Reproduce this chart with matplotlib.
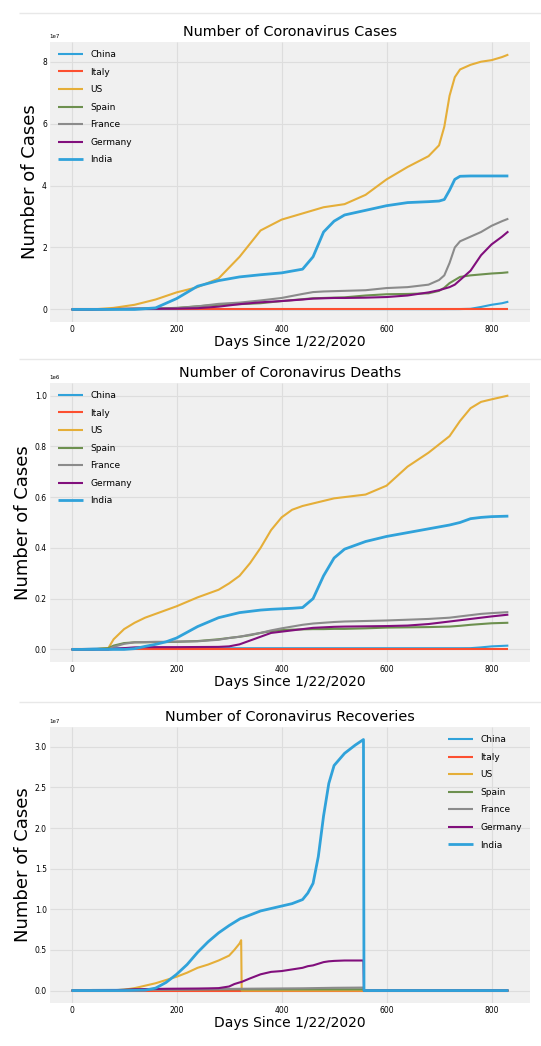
import matplotlib
matplotlib.use("Agg")
import matplotlib.pyplot as plt
from matplotlib.lines import Line2D

countries = ['China', 'Italy', 'US', 'Spain', 'France', 'Germany', 'India']
colors = ['#30a2da', '#fc4f30', '#e5ae38', '#6d904f', '#8b8b8b', '#810f7c', '#30a2da']

# --- confirmed cases (x 1e7) ---
days_c = [0, 40, 80, 120, 160, 200, 240, 280, 320, 360, 400, 440, 460, 480, 500,
          520, 560, 600, 640, 680, 700, 710, 720, 730, 740, 760, 780, 800, 820, 832]
cases_china = [0.001, 0.008, 0.008, 0.008, 0.009, 0.009, 0.009, 0.009, 0.009, 0.009,
               0.01, 0.01, 0.01, 0.01, 0.01, 0.01, 0.01, 0.01, 0.01, 0.01, 0.01, 0.01,
               0.011, 0.011, 0.012, 0.02, 0.08, 0.15, 0.2, 0.25]
cases_italy = [0] * len(days_c)
cases_us = [0, 0.0, 0.05, 0.15, 0.32, 0.55, 0.72, 1.0, 1.7, 2.55, 2.9, 3.1, 3.2, 3.3,
            3.35, 3.4, 3.7, 4.2, 4.6, 4.95, 5.3, 5.9, 6.9, 7.5, 7.75, 7.9, 8.0, 8.05,
            8.15, 8.23]
cases_spain = [0, 0, 0.01, 0.025, 0.03, 0.05, 0.1, 0.15, 0.17, 0.2, 0.27, 0.33, 0.36,
               0.37, 0.38, 0.39, 0.45, 0.49, 0.5, 0.52, 0.6, 0.7, 0.85, 0.95, 1.05,
               1.1, 1.13, 1.16, 1.18, 1.2]
cases_france = [0, 0, 0.01, 0.02, 0.02, 0.04, 0.1, 0.18, 0.22, 0.29, 0.37, 0.5, 0.56,
                0.58, 0.59, 0.6, 0.62, 0.69, 0.72, 0.8, 0.95, 1.1, 1.5, 2.0, 2.2, 2.35,
                2.5, 2.7, 2.85, 2.93]
cases_germany = [0, 0, 0.015, 0.02, 0.022, 0.026, 0.04, 0.09, 0.17, 0.23, 0.27, 0.32,
                 0.35, 0.36, 0.37, 0.37, 0.38, 0.4, 0.45, 0.55, 0.62, 0.67, 0.72, 0.8,
                 0.95, 1.25, 1.75, 2.1, 2.35, 2.52]
cases_india = [0, 0, 0, 0.0, 0.05, 0.35, 0.75, 0.93, 1.05, 1.12, 1.18, 1.3, 1.7, 2.5,
               2.85, 3.05, 3.2, 3.35, 3.45, 3.48, 3.5, 3.55, 3.85, 4.2, 4.3, 4.31, 4.31,
               4.31, 4.31, 4.31]

# --- deaths (x 1e6) ---
days_d = [0, 40, 70, 80, 100, 120, 140, 160, 180, 200, 240, 280, 300, 320, 340, 360,
          380, 400, 420, 440, 460, 480, 500, 520, 560, 600, 640, 680, 720, 740, 760,
          780, 800, 832]
deaths_china = [0, 0.003, 0.0045, 0.0045, 0.0046, 0.0046, 0.0046, 0.0046, 0.0047,
                0.0047, 0.0047, 0.0047, 0.0047, 0.0047, 0.0048, 0.0048, 0.0048, 0.0048,
                0.0048, 0.0048, 0.0048, 0.0048, 0.0048, 0.0048, 0.0048, 0.0048, 0.0048,
                0.0048, 0.0048, 0.0048, 0.005, 0.008, 0.012, 0.015]
deaths_italy = [0] * len(days_d)
deaths_us = [0, 0, 0.005, 0.04, 0.08, 0.105, 0.125, 0.14, 0.155, 0.17, 0.205, 0.235,
             0.26, 0.29, 0.34, 0.4, 0.47, 0.52, 0.55, 0.565, 0.575, 0.585, 0.595, 0.6,
             0.61, 0.645, 0.72, 0.775, 0.84, 0.9, 0.95, 0.975, 0.985, 1.0]
deaths_spain = [0, 0, 0.005, 0.015, 0.025, 0.028, 0.028, 0.029, 0.029, 0.03, 0.033,
                0.04, 0.045, 0.05, 0.056, 0.065, 0.072, 0.076, 0.078, 0.079, 0.08, 0.08,
                0.081, 0.081, 0.083, 0.086, 0.087, 0.088, 0.09, 0.093, 0.097, 0.1,
                0.103, 0.105]
deaths_france = [0, 0, 0.0, 0.01, 0.022, 0.028, 0.029, 0.03, 0.03, 0.031, 0.032, 0.038,
                 0.045, 0.05, 0.058, 0.065, 0.075, 0.083, 0.09, 0.097, 0.102, 0.105,
                 0.108, 0.11, 0.112, 0.114, 0.117, 0.12, 0.125, 0.13, 0.135, 0.14,
                 0.143, 0.147]
deaths_germany = [0, 0, 0.0, 0.002, 0.005, 0.008, 0.009, 0.009, 0.009, 0.009, 0.0095,
                  0.01, 0.012, 0.02, 0.035, 0.05, 0.065, 0.07, 0.075, 0.08, 0.085,
                  0.087, 0.089, 0.09, 0.091, 0.092, 0.094, 0.1, 0.11, 0.115, 0.12,
                  0.125, 0.13, 0.137]
deaths_india = [0, 0, 0, 0, 0, 0.003, 0.012, 0.02, 0.03, 0.045, 0.09, 0.125, 0.135,
                0.145, 0.15, 0.155, 0.158, 0.16, 0.162, 0.165, 0.2, 0.29, 0.36, 0.395,
                0.425, 0.445, 0.46, 0.475, 0.49, 0.5, 0.515, 0.52, 0.523, 0.525]

# --- recoveries (x 1e7) ---
days_r = [0, 40, 80, 100, 120, 140, 160, 180, 200, 220, 240, 260, 280, 300, 310, 320,
          323, 324, 340, 360, 380, 400, 420, 440, 450, 460, 470, 480, 490, 500, 520,
          540, 556, 557, 600, 700, 832]
rec_china = [0, 0.007, 0.008, 0.008, 0.008, 0.008, 0.008, 0.008, 0.008, 0.008, 0.008,
             0.008, 0.008, 0.008, 0.008, 0.008, 0.008, 0.008, 0.008, 0.008, 0.008,
             0.008, 0.008, 0.008, 0.008, 0.008, 0.008, 0.008, 0.008, 0.008, 0.008,
             0.008, 0.008, 0, 0, 0, 0]
rec_italy = [0] * len(days_r)
rec_us = [0, 0, 0.003, 0.01, 0.03, 0.06, 0.09, 0.13, 0.17, 0.22, 0.28, 0.32, 0.37,
          0.43, 0.5, 0.58, 0.62, 0, 0, 0, 0, 0, 0, 0, 0, 0, 0, 0, 0, 0, 0, 0, 0, 0,
          0, 0, 0]
rec_spain = [0, 0, 0.005, 0.01, 0.015, 0.015, 0.015, 0.015, 0.015, 0.015, 0.015, 0.015,
             0.015, 0.015, 0.015, 0.015, 0.015, 0.015, 0.015, 0.015, 0.015, 0.015,
             0.015, 0.015, 0.015, 0.015, 0.015, 0.015, 0.015, 0.015, 0.015, 0.015,
             0.015, 0, 0, 0, 0]
rec_france = [0, 0, 0.003, 0.006, 0.007, 0.008, 0.009, 0.01, 0.011, 0.012, 0.014,
              0.016, 0.018, 0.02, 0.021, 0.022, 0.022, 0.022, 0.023, 0.024, 0.025,
              0.026, 0.027, 0.028, 0.029, 0.03, 0.031, 0.032, 0.033, 0.034, 0.035,
              0.036, 0.037, 0, 0, 0, 0]
rec_germany = [0, 0, 0.005, 0.008, 0.015, 0.018, 0.02, 0.022, 0.023, 0.024, 0.025,
               0.027, 0.03, 0.05, 0.08, 0.1, 0.105, 0.107, 0.15, 0.2, 0.23, 0.24, 0.26,
               0.28, 0.3, 0.31, 0.33, 0.35, 0.36, 0.365, 0.37, 0.37, 0.37, 0, 0, 0, 0]
rec_india = [0, 0, 0, 0, 0.002, 0.005, 0.03, 0.1, 0.2, 0.32, 0.47, 0.6, 0.71, 0.8,
             0.84, 0.88, 0.89, 0.89, 0.93, 0.98, 1.01, 1.04, 1.07, 1.12, 1.2, 1.32,
             1.65, 2.15, 2.55, 2.77, 2.92, 3.02, 3.09, 0, 0, 0, 0]

panels = [
    ("Number of Coronavirus Cases", days_c, 1e7,
     [cases_china, cases_italy, cases_us, cases_spain, cases_france, cases_germany, cases_india],
     'upper left'),
    ("Number of Coronavirus Deaths", days_d, 1e6,
     [deaths_china, deaths_italy, deaths_us, deaths_spain, deaths_france, deaths_germany, deaths_india],
     'upper left'),
    ("Number of Coronavirus Recoveries", days_r, 1e7,
     [rec_china, rec_italy, rec_us, rec_spain, rec_france, rec_germany, rec_india],
     'upper right'),
]

plt.style.use('fivethirtyeight')
plt.rcParams['figure.facecolor'] = 'white'
plt.rcParams['savefig.facecolor'] = 'white'
plt.rcParams['axes.linewidth'] = 0

fig = plt.figure(figsize=(5.41, 10.46), dpi=100)
boxes = [[0.092, 0.692, 0.888, 0.268],
         [0.092, 0.367, 0.888, 0.267],
         [0.092, 0.041, 0.888, 0.264]]

for box, (title, days, scale, series, loc) in zip(boxes, panels):
    ax = fig.add_axes(box)
    for name, col, vals in zip(countries, colors, series):
        lw = 2.0 if name == 'India' else 1.5
        ax.plot(days, [v * scale for v in vals], label=name, color=col, lw=lw)
    ax.set_title(title, fontsize=10.4, pad=4)
    ax.set_xlabel("Days Since 1/22/2020", fontsize=10, labelpad=1)
    ax.set_ylabel("Number of Cases", fontsize=13, labelpad=2)
    ax.tick_params(labelsize=5.5, pad=2)
    ax.yaxis.get_offset_text().set_fontsize(4)
    ax.grid(True, color='#dddddd', lw=0.8)
    ax.legend(loc=loc, fontsize=6.5, frameon=False, handlelength=2.8,
              labelspacing=0.95)

# faint separators between the stacked outputs
for y in [0.988, 0.657, 0.329]:
    fig.add_artist(Line2D([0.035, 1.0], [y, y], color='#e8e8e8', lw=1))

fig.savefig("out.png", dpi=100)
